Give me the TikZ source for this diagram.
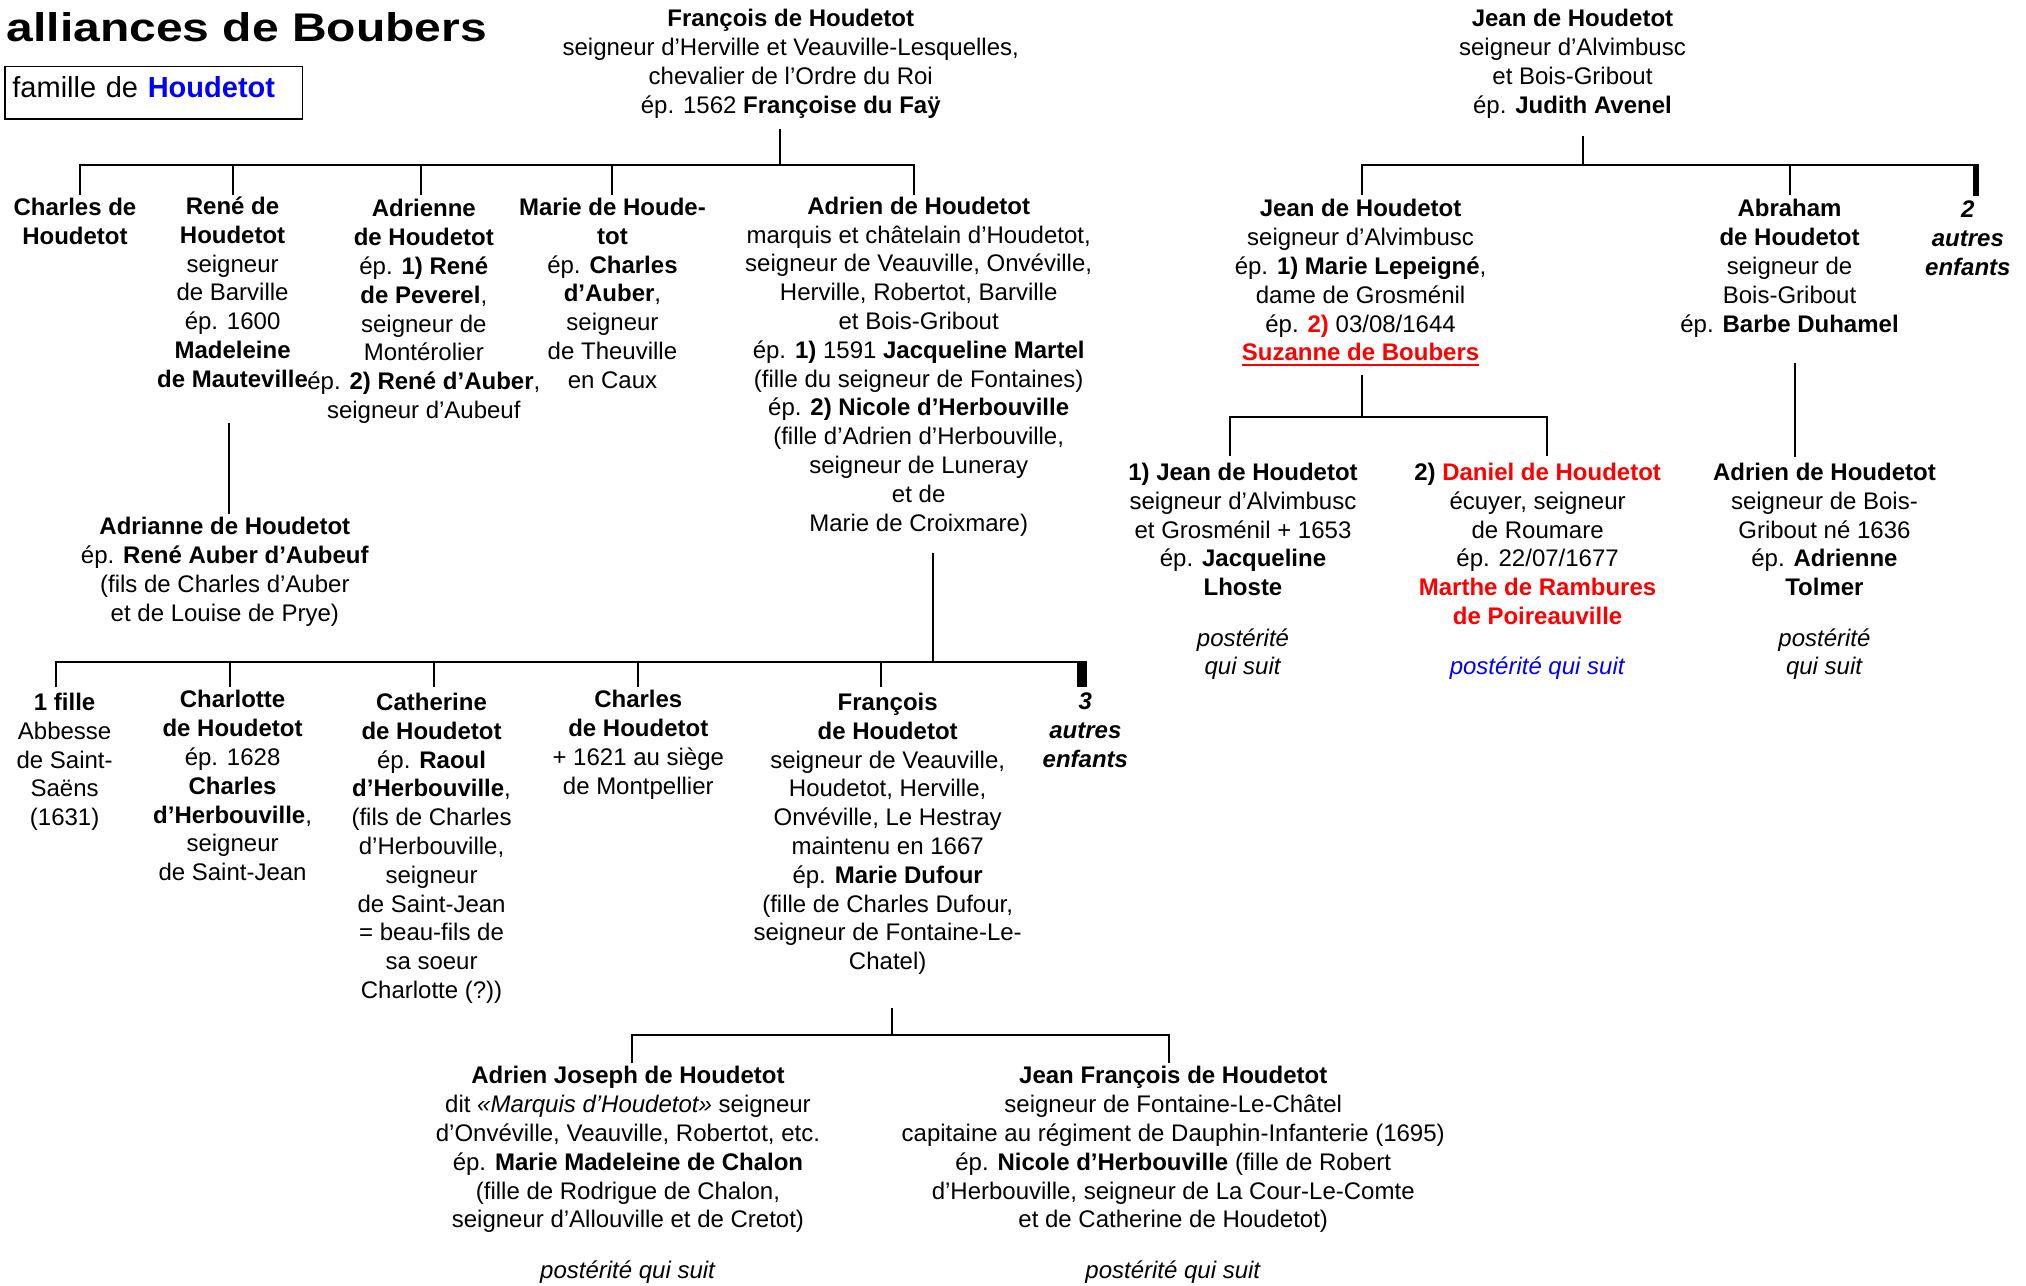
\documentclass[tikz,border=0pt]{standalone}
\usepackage{fontspec}
\setmainfont{Liberation Sans}
\usepackage{graphicx}
\definecolor{myred}{RGB}{255,0,0}
\definecolor{myblue}{RGB}{0,0,255}
\newcommand\redul[1]{\setbox0\hbox{#1}\rlap{\rule[-2.6pt]{\wd0}{1pt}}\box0}
\begin{document}
\begin{tikzpicture}[x=0.646pt, y=-0.646pt,
  person/.style={anchor=north, align=center, inner sep=0pt, yshift=4.5pt,
    font=\fontsize{12}{14.4}\selectfont, execute at begin node={\rule{0pt}{12pt}}},
  other/.style={person, font=\fontsize{12}{14.4}\selectfont\bfseries\itshape},
  link/.style={line width=1pt, line join=miter},
  thicktick/.style={line width=#1}]
\useasboundingbox (0,0) rectangle (1568,995);

% title and legend
\node[anchor=base west, inner sep=0pt] (title) at (5,32.3)
  {\fontsize{20}{24}\selectfont\bfseries\scalebox{1.2}[1]{alliances de Boubers}};
\node[draw, line width=0.8pt, anchor=north west, inner xsep=3.8pt, inner ysep=0pt,
  minimum height=26.2pt, text width=141.2pt, align=left, text height=10.6pt, text depth=6.1pt,
  font=\fontsize{14.5}{17}\selectfont] (fam) at (3.1,51)
  {famille de \textcolor{myblue}{\textbf{Houdetot}}};

% ---------- left family ----------
\node[person] (fr) at (612,14) {\textbf{François de Houdetot}\\
  seigneur d’Herville et Veauville-Lesquelles,\\
  chevalier de l’Ordre du Roi\\
  ép. 1562 \textbf{Françoise du Faÿ}};

\node[person] (ch) at (58,160) {\textbf{Charles de}\\\textbf{Houdetot}};
\node[person] (re) at (180,159) {\textbf{René de}\\\textbf{Houdetot}\\seigneur\\de Barville\\ép. 1600\\\textbf{Madeleine}\\\textbf{de Mauteville}};
\node[person] (ad) at (328,161) {\textbf{Adrienne}\\\textbf{de Houdetot}\\ép. \textbf{1) René}\\\textbf{de Peverel},\\seigneur de\\Montérolier\\ép. \textbf{2) René d’Auber},\\seigneur d’Aubeuf};
\node[person] (ma) at (474,160) {\textbf{Marie de Houde-}\\\textbf{tot}\\ép. \textbf{Charles}\\\textbf{d’Auber},\\seigneur\\de Theuville\\en Caux};
\node[person] (adr) at (711,159) {\textbf{Adrien de Houdetot}\\
  marquis et châtelain d’Houdetot,\\
  seigneur de Veauville, Onvéville,\\
  Herville, Robertot, Barville\\
  et Bois-Gribout\\
  ép. \textbf{1)} 1591 \textbf{Jacqueline Martel}\\
  (fille du seigneur de Fontaines)\\
  ép. \textbf{2) Nicole d’Herbouville}\\
  (fille d’Adrien d’Herbouville,\\
  seigneur de Luneray\\
  et de\\
  Marie de Croixmare)};

\node[person] (an) at (174,407) {\textbf{Adrianne de Houdetot}\\ép. \textbf{René Auber d’Aubeuf}\\(fils de Charles d’Auber\\et de Louise de Prye)};

\node[person] (f1) at (50,543) {\textbf{1 fille}\\Abbesse\\de Saint-\\Saëns\\(1631)};
\node[person] (cha) at (180,541) {\textbf{Charlotte}\\\textbf{de Houdetot}\\ép. 1628\\\textbf{Charles}\\\textbf{d’Herbouville},\\seigneur\\de Saint-Jean};
\node[person] (cat) at (334,543) {\textbf{Catherine}\\\textbf{de Houdetot}\\ép. \textbf{Raoul}\\\textbf{d’Herbouville},\\(fils de Charles\\d’Herbouville,\\seigneur\\de Saint-Jean\\= beau-fils de\\sa soeur\\Charlotte (?))};
\node[person] (chr) at (494,541) {\textbf{Charles}\\\textbf{de Houdetot}\\+ 1621 au siège\\de Montpellier};
\node[person] (fra) at (687,543) {\textbf{François}\\\textbf{de Houdetot}\\seigneur de Veauville,\\Houdetot, Herville,\\Onvéville, Le Hestray\\maintenu en 1667\\ép. \textbf{Marie Dufour}\\(fille de Charles Dufour,\\seigneur de Fontaine-Le-\\Chatel)};
\node[other] (au3) at (840,543) {3\\autres\\enfants};

\node[person] (aj) at (486,832) {\textbf{Adrien Joseph de Houdetot}\\
  dit \textit{«Marquis d’Houdetot»} seigneur\\
  d’Onvéville, Veauville, Robertot, etc.\\
  ép. \textbf{Marie Madeleine de Chalon}\\
  (fille de Rodrigue de Chalon,\\
  seigneur d’Allouville et de Cretot)\\[10.8pt]
  \textit{postérité qui suit}};
\node[person] (jf) at (908,832) {\textbf{Jean François de Houdetot}\\
  seigneur de Fontaine-Le-Châtel\\
  capitaine au régiment de Dauphin-Infanterie (1695)\\
  ép. \textbf{Nicole d’Herbouville} (fille de Robert\\
  d’Herbouville, seigneur de La Cour-Le-Comte\\
  et de Catherine de Houdetot)\\[10.8pt]
  \textit{postérité qui suit}};

% ---------- right family ----------
\node[person] (jn) at (1217,14) {\textbf{Jean de Houdetot}\\seigneur d’Alvimbusc\\et Bois-Gribout\\ép. \textbf{Judith Avenel}};
\node[person] (jn2) at (1053,161) {\textbf{Jean de Houdetot}\\seigneur d’Alvimbusc\\ép. \textbf{1) Marie Lepeigné},\\dame de Grosménil\\ép. \textcolor{myred}{\textbf{2)}} 03/08/1644\\\textcolor{myred}{\redul{\textbf{Suzanne de Boubers}}}};
\node[person] (ab) at (1385,161) {\textbf{Abraham}\\\textbf{de Houdetot}\\seigneur de\\Bois-Gribout\\ép. \textbf{Barbe Duhamel}};
\node[other] (au2) at (1523,162) {2\\autres\\enfants};

\node[person] (j1) at (962,365) {\textbf{1) Jean de Houdetot}\\seigneur d’Alvimbusc\\et Grosménil + 1653\\ép. \textbf{Jacqueline}\\\textbf{Lhoste}\\[10.8pt]\textit{postérité}\\\textit{qui suit}};
\node[person] (da) at (1190,365) {\textbf{2) \textcolor{myred}{Daniel de Houdetot}}\\écuyer, seigneur\\de Roumare\\ép. 22/07/1677\\\textcolor{myred}{\textbf{Marthe de Rambures}}\\\textcolor{myred}{\textbf{de Poireauville}}\\[10.8pt]\textcolor{myblue}{\textit{postérité qui suit}}};
\node[person] (adr2) at (1412,365) {\textbf{Adrien de Houdetot}\\seigneur de Bois-\\Gribout né 1636\\ép. \textbf{Adrienne}\\\textbf{Tolmer}\\[10.8pt]\textit{postérité}\\\textit{qui suit}};

% ---------- connector coordinates ----------
\coordinate (frD) at (604,100);  \coordinate (frB) at (604,128);
\coordinate (chB) at (62,128);   \coordinate (chT) at (62,151);
\coordinate (reB) at (180,128);  \coordinate (reT) at (180,151);
\coordinate (adB) at (326,128);  \coordinate (adT) at (326,151);
\coordinate (maB) at (474,128);  \coordinate (maT) at (474,151);
\coordinate (adrB) at (707,128); \coordinate (adrT) at (707,151);
\coordinate (reD) at (177,327);  \coordinate (anT) at (177,398);
\coordinate (adrD) at (722,428); \coordinate (adrC) at (722,512);
\coordinate (f1B) at (43,512);   \coordinate (f1T) at (43,532);
\coordinate (chaB) at (178,512); \coordinate (chaT) at (178,532);
\coordinate (catB) at (336,512); \coordinate (catT) at (336,532);
\coordinate (chrB) at (494,512); \coordinate (chrT) at (494,532);
\coordinate (fraB) at (682,512); \coordinate (fraT) at (682,532);
\coordinate (au3B) at (837.2,512); \coordinate (au3Bt) at (837.2,511.2); \coordinate (au3T) at (837.2,532);
\coordinate (fraD) at (690,780); \coordinate (fraC) at (690,801);
\coordinate (ajB) at (489,801);  \coordinate (ajT) at (489,823);
\coordinate (jfB) at (905,801);  \coordinate (jfT) at (905,823);
\coordinate (jnD) at (1225,105); \coordinate (jnB) at (1225,128);
\coordinate (jn2B) at (1054,128); \coordinate (jn2T) at (1054,151);
\coordinate (abB) at (1385,128); \coordinate (abT) at (1385,151);
\coordinate (au2B) at (1529.4,128); \coordinate (au2Bt) at (1529.4,126.6); \coordinate (au2T) at (1529.4,152);
\coordinate (jn2D) at (1054,290); \coordinate (jn2C) at (1054,323);
\coordinate (j1B) at (952,323);  \coordinate (j1T) at (952,353);
\coordinate (daB) at (1197,323); \coordinate (daT) at (1197,353);
\coordinate (abD) at (1389,281); \coordinate (adr2T) at (1389,354);

% ---------- connectors ----------
\draw[link] (frD) -- (frB);
\draw[link] (chT) -- (chB) -- (adrB) -- (adrT);
\draw[link] (reB) -- (reT);
\draw[link] (adB) -- (adT);
\draw[link] (maB) -- (maT);
\draw[link] (reD) -- (anT);

\draw[link] (adrD) -- (adrC);
\draw[link] (f1T) -- (f1B) -- (au3B);
\draw[link] (chaB) -- (chaT);
\draw[link] (catB) -- (catT);
\draw[link] (chrB) -- (chrT);
\draw[link] (fraB) -- (fraT);
\draw[thicktick=5pt] (au3Bt) -- (au3T);

\draw[link] (fraD) -- (fraC);
\draw[link] (ajT) -- (ajB) -- (jfB) -- (jfT);

\draw[link] (jnD) -- (jnB);
\draw[link] (jn2T) -- (jn2B) -- (au2B);
\draw[link] (abB) -- (abT);
\draw[thicktick=2.7pt] (au2Bt) -- (au2T);

\draw[link] (jn2D) -- (jn2C);
\draw[link] (j1T) -- (j1B) -- (daB) -- (daT);
\draw[link] (abD) -- (adr2T);
\end{tikzpicture}
\end{document}
